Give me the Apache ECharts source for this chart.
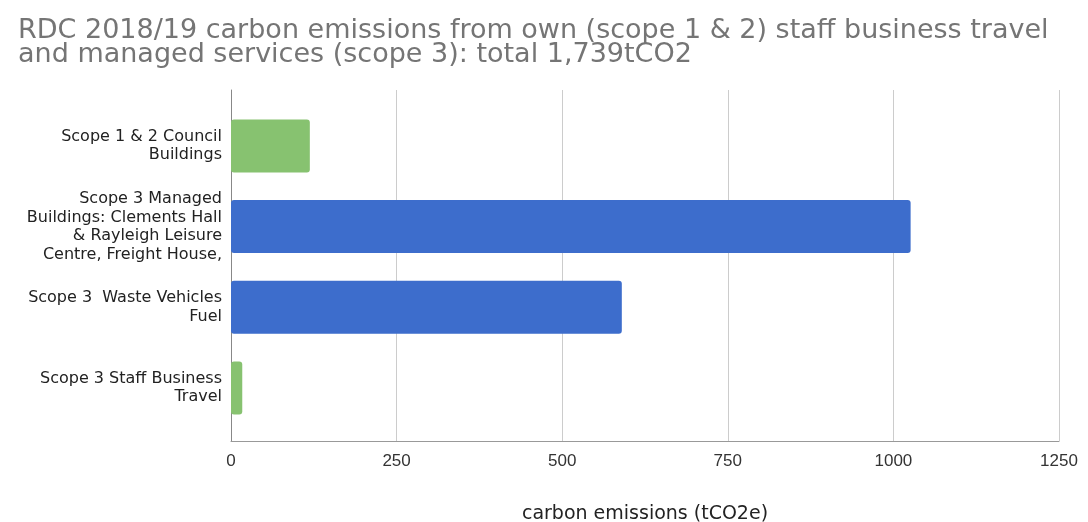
<!DOCTYPE html>
<html>
<head>
<meta charset="utf-8">
<script src="https://cdn.jsdelivr.net/npm/echarts@6/dist/echarts.min.js"></script>
<style>html,body{margin:0;padding:0;background:#fff}#c{width:1088px;height:522px}</style>
</head>
<body>
<div id="c"></div>
<script>
var categories = [
  "Scope 1 & 2 Council\nBuildings",
  "Scope 3 Managed\nBuildings: Clements Hall\n& Rayleigh Leisure\nCentre, Freight House,",
  "Scope 3  Waste Vehicles\nFuel",
  "Scope 3 Staff Business\nTravel"
];
var values = [119, 1026, 590, 17];
var barColors = ["#87c270", "#3d6dcc", "#3d6dcc", "#87c270"];
var xTicks = [0, 250, 500, 750, 1000, 1250];
var titleText = "RDC 2018/19 carbon emissions from own (scope 1 & 2) staff business travel\nand managed services (scope 3): total 1,739tCO2";
var xName = "carbon emissions (tCO2e)";

var chart = echarts.init(document.getElementById('c'));
var wide = "'DejaVu Sans', sans-serif";
var arial = "Arial, 'Liberation Sans', sans-serif";
chart.setOption({
  animation: false,
  textStyle: { fontFamily: wide },
  title: {
    text: titleText,
    left: 13, top: 14,
    textStyle: { fontFamily: wide, fontSize: 27, fontWeight: 'normal', color: '#757575', lineHeight: 24 }
  },
  grid: [
    { left: 231, right: 29, top: 90, bottom: 81, outerBoundsMode: 'none', containLabel: false },
    { left: 231, right: 29, top: 105.6, bottom: 93.7, outerBoundsMode: 'none', containLabel: false }
  ],
  xAxis: [
    {
      gridIndex: 0, type: 'value', min: xTicks[0], max: xTicks[xTicks.length - 1], interval: 250,
      axisLine: { show: true, lineStyle: { color: '#999', width: 1 } },
      axisTick: { show: false },
      splitLine: { show: true, lineStyle: { color: '#cccccc', width: 1 } },
      axisLabel: { color: '#333', fontSize: 17, fontFamily: arial, margin: 12, formatter: function (v) { return String(v); } },
      name: xName, nameLocation: 'middle', nameGap: 64,
      nameTextStyle: { color: '#222', fontSize: 19, fontFamily: wide }
    },
    {
      gridIndex: 1, type: 'value', min: xTicks[0], max: xTicks[xTicks.length - 1], show: false
    }
  ],
  yAxis: [
    {
      gridIndex: 0, type: 'value', min: 0, max: 1,
      axisLine: { show: true, lineStyle: { color: '#888', width: 1 } },
      axisTick: { show: false }, axisLabel: { show: false }, splitLine: { show: false }
    },
    {
      gridIndex: 1, type: 'category', data: categories, inverse: true,
      axisLine: { show: false }, axisTick: { show: false }, splitLine: { show: false },
      axisLabel: { color: '#222', fontSize: 16, lineHeight: 18.5, align: 'right', margin: 9, fontFamily: wide }
    }
  ],
  series: [{
    type: 'bar',
    xAxisIndex: 1, yAxisIndex: 1,
    barWidth: 53,
    data: values.map(function (v, i) {
      return { value: v, itemStyle: { color: barColors[i], borderRadius: 3 } };
    })
  }]
});
</script>
</body>
</html>
